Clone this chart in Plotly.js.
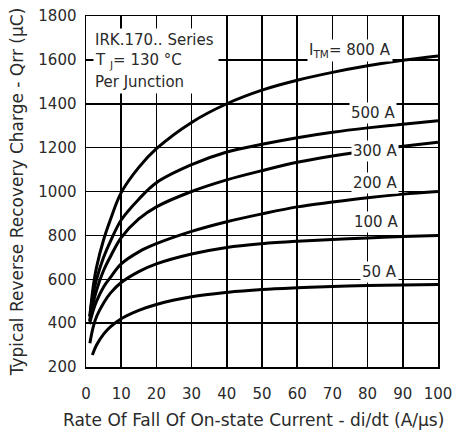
<!DOCTYPE html>
<html>
<head>
<meta charset="utf-8">
<script src="https://cdn.plot.ly/plotly-3.0.1.min.js"></script>
<style>html,body{margin:0;padding:0;background:#fff;}#chart{width:454px;height:434px;}</style>
</head>
<body>
<div id="chart"></div>
<script>
// Data
const x800 = [1.3, 2, 3, 5, 7, 10, 15, 20, 30, 40, 50, 60, 70, 80, 90, 100];
const q800 = [460, 560, 655, 780, 875, 995, 1110, 1195, 1315, 1400, 1462, 1507, 1543, 1573, 1598, 1618];
const x500 = [1, 2, 3, 5, 7, 10, 15, 20, 30, 40, 50, 60, 70, 80, 90, 100];
const q500 = [430, 530, 600, 700, 775, 870, 965, 1040, 1122, 1180, 1215, 1245, 1270, 1290, 1307, 1322];
const x300 = [1, 2, 3, 5, 7, 10, 15, 20, 30, 40, 50, 60, 70, 80, 90, 100];
const q300 = [410, 490, 550, 640, 705, 790, 875, 930, 1000, 1053, 1095, 1133, 1162, 1186, 1206, 1224];
const x200 = [1, 2, 3, 5, 7, 10, 15, 20, 30, 40, 50, 60, 70, 80, 90, 100];
const q200 = [395, 455, 500, 565, 610, 670, 725, 762, 818, 862, 898, 930, 952, 972, 988, 1000];
const x100 = [1.1, 2, 3, 5, 7, 10, 15, 20, 30, 40, 50, 60, 70, 80, 90, 100];
const q100 = [308, 380, 430, 492, 538, 585, 635, 670, 715, 745, 762, 773, 781, 788, 795, 800];
const x50 = [1.8, 3, 5, 7, 10, 15, 20, 30, 40, 50, 60, 70, 80, 90, 100];
const q50 = [255, 300, 350, 384, 420, 458, 485, 520, 540, 553, 561, 567, 571, 574, 576];

const seriesLabels = ['I<sub>TM</sub>= 800 A', '500 A', '300 A', '200 A', '100 A', '50 A'];
const labelX = [62.8, 81.5, 82.1, 82.1, 82.4, 83.5];
const labelY = [1645, 1356, 1185, 1039, 861, 633];
const labelAnchor = ['left', 'center', 'center', 'center', 'center', 'center'];

const xTicks = [0, 10, 20, 30, 40, 50, 60, 70, 80, 90, 100];
const yTicks = [200, 400, 600, 800, 1000, 1200, 1400, 1600, 1800];

const infoLines = ['IRK.170.. Series', 'T <sub>J</sub>= 130 °C', 'Per Junction'];
const infoY = [1690, 1595, 1500];

const xTitle = 'Rate Of Fall Of On-state Current - di/dt (A/µs)';
const yTitle = 'Typical Reverse Recovery Charge - Qrr (µC)';

const font = {family: 'DejaVu Sans, sans-serif', size: 15, color: '#2a2a2a'};
const titleFont = {family: 'DejaVu Sans, sans-serif', size: 17, color: '#2a2a2a'};

const xs = [x800, x500, x300, x200, x100, x50];
const qs = [q800, q500, q300, q200, q100, q50];
const traces = xs.map((xv, i) => ({
  x: xv, y: qs[i], type: 'scatter', mode: 'lines',
  line: {color: '#000', width: 3, shape: 'spline', smoothing: 1},
  hoverinfo: 'skip', showlegend: false
}));

const annotations = seriesLabels.map((t, i) => ({
  x: labelX[i], y: labelY[i], xref: 'x', yref: 'y', text: t, showarrow: false,
  bgcolor: '#fff', borderpad: 1, font: font, xanchor: labelAnchor[i], yanchor: 'middle'
}));
infoLines.forEach((t, i) => annotations.push({
  x: 2.0, y: infoY[i], xref: 'x', yref: 'y', text: t, showarrow: false,
  width: 122, height: 20, borderpad: 1, bgcolor: '#fff', font: font,
  xanchor: 'left', yanchor: 'middle', align: 'left', valign: 'middle'
}));
annotations.push({
  x: 0.477, y: -0.151, xref: 'paper', yref: 'paper', text: xTitle, showarrow: false,
  font: titleFont, xanchor: 'center', yanchor: 'middle'
});

const layout = {
  width: 454, height: 434,
  margin: {l: 86, r: 16, t: 16, b: 67},
  paper_bgcolor: '#fff', plot_bgcolor: '#fff',
  font: font,
  xaxis: {
    range: [0, 100], tickvals: xTicks, ticktext: xTicks.map(String),
    showgrid: true, gridcolor: '#000', gridwidth: 1.5,
    showline: true, linecolor: '#000', linewidth: 1.5, mirror: true,
    zeroline: false, ticks: '', ticklabelstandoff: 12,
    tickfont: font
  },
  yaxis: {
    range: [200, 1800], tickvals: yTicks, ticktext: yTicks.map(String),
    showgrid: true, gridcolor: '#000', gridwidth: 1.5,
    showline: true, linecolor: '#000', linewidth: 1.5, mirror: true,
    zeroline: false, ticks: '', ticklabelstandoff: 5,
    tickfont: font,
    title: {text: yTitle, font: titleFont, standoff: 10}
  },
  annotations: annotations
};

Plotly.newPlot('chart', traces, layout, {displayModeBar: false, staticPlot: true});
</script>
</body>
</html>
